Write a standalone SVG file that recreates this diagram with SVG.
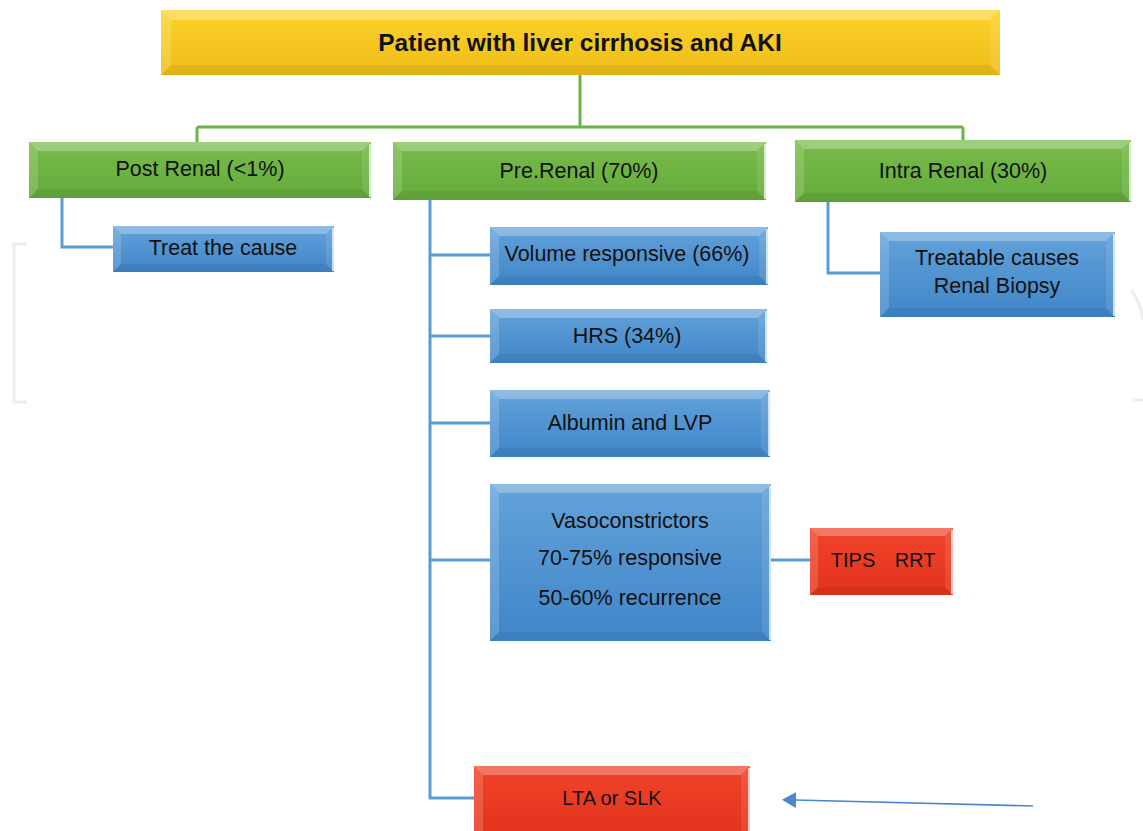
<svg xmlns="http://www.w3.org/2000/svg" width="1143" height="831" viewBox="0 0 1143 831">
<style>
text{font-family:"Liberation Sans",Arial,sans-serif;font-size:21.5px;fill:#111;text-anchor:middle;dominant-baseline:central}
.title{font-weight:bold;font-size:24.5px}
.sm{font-size:20px}
.bt{fill:#fff;fill-opacity:.28}
.bl{fill:#fff;fill-opacity:.16}
.br{fill:#fff;fill-opacity:.1}
.bb{fill:#000;fill-opacity:.06}
.edge{stroke:#fff;stroke-opacity:.7;stroke-width:2}
.g{stroke:#6ab44a;stroke-width:3;fill:none}
.b{stroke:#5b9bd5;stroke-width:3;fill:none}
.wm{stroke:#eceeee;stroke-width:3;fill:none}
</style>
<defs>
<linearGradient id="gy" x1="0" y1="0" x2="0" y2="1"><stop offset="0" stop-color="#fdd22a"/><stop offset="1" stop-color="#efbd18"/></linearGradient>
<linearGradient id="gg" x1="0" y1="0" x2="0" y2="1"><stop offset="0" stop-color="#78bc4a"/><stop offset="1" stop-color="#64ab3c"/></linearGradient>
<linearGradient id="gb" x1="0" y1="0" x2="0" y2="1"><stop offset="0" stop-color="#64a2da"/><stop offset="1" stop-color="#3f86c8"/></linearGradient>
<linearGradient id="gr" x1="0" y1="0" x2="0" y2="1"><stop offset="0" stop-color="#f0442a"/><stop offset="1" stop-color="#e2331c"/></linearGradient>
<marker id="ah" viewBox="0 0 14 16" refX="1" refY="8" markerWidth="14" markerHeight="16" markerUnits="userSpaceOnUse" orient="auto-start-reverse"><path d="M0,0 L14,8 L0,16 z" fill="#4a88cc"/></marker>
</defs>

<g id="watermark">
<path class="wm" d="M27,244 H14 V402 H27"/>
<path class="wm" d="M1131,290 A60,60 0 0 1 1143,320"/>
<path class="wm" d="M1133,400 H1143"/>
</g>

<g id="connectors">
<path class="g" d="M580,75 V127 M197,127 H963 M197,127 V142 M963,127 V140"/>
<path class="b" d="M62,198 V247 H113"/>
<path class="b" d="M430,200 V798 H474 M430,255 H490 M430,336 H490 M430,423 H490 M430,560 H490"/>
<path class="b" d="M771,560 H810"/>
<path class="b" d="M828,202 V273 H880"/>
<line x1="1033" y1="806" x2="795" y2="800" stroke="#4a88cc" stroke-width="1.6" marker-end="url(#ah)"/>
</g>

<g id="n-top">
<rect x="161" y="10" width="839" height="65" fill="url(#gy)"/>
<polygon class="bt" points="161,10 1000,10 990,20 171,20"/>
<polygon class="bl" points="161,10 171,20 171,65 161,75"/>
<polygon class="br" points="1000,10 990,20 990,65 1000,75"/>
<polygon class="bb" points="161,75 171,65 990,65 1000,75"/>
<text class="title" x="580" y="42">Patient with liver cirrhosis and AKI</text>
</g>

<g id="n-post">
<rect x="29" y="142" width="342" height="56" fill="url(#gg)"/>
<polygon class="bt" points="29,142 371,142 362,151 38,151"/>
<polygon class="bl" points="29,142 38,151 38,189 29,198"/>
<polygon class="br" points="371,142 362,151 362,189 371,198"/>
<polygon class="bb" points="29,198 38,189 362,189 371,198"/>
<line class="edge" x1="370" y1="144" x2="370" y2="197"/>
<text x="200" y="169">Post Renal (&lt;1%)</text>
</g>

<g id="n-pre">
<rect x="393" y="142" width="373" height="58" fill="url(#gg)"/>
<polygon class="bt" points="393,142 766,142 757,151 402,151"/>
<polygon class="bl" points="393,142 402,151 402,191 393,200"/>
<polygon class="br" points="766,142 757,151 757,191 766,200"/>
<polygon class="bb" points="393,200 402,191 757,191 766,200"/>
<line class="edge" x1="765" y1="144" x2="765" y2="199"/>
<text x="579" y="171">Pre.Renal  (70%)</text>
</g>

<g id="n-intra">
<rect x="795" y="140" width="336" height="62" fill="url(#gg)"/>
<polygon class="bt" points="795,140 1131,140 1122,149 804,149"/>
<polygon class="bl" points="795,140 804,149 804,193 795,202"/>
<polygon class="br" points="1131,140 1122,149 1122,193 1131,202"/>
<polygon class="bb" points="795,202 804,193 1122,193 1131,202"/>
<line class="edge" x1="1130" y1="142" x2="1130" y2="201"/>
<text x="963" y="171">Intra Renal (30%)</text>
</g>

<g id="n-treat">
<rect x="113" y="226" width="221" height="46" fill="url(#gb)"/>
<polygon class="bt" points="113,226 334,226 326,234 121,234"/>
<polygon class="bl" points="113,226 121,234 121,264 113,272"/>
<polygon class="br" points="334,226 326,234 326,264 334,272"/>
<polygon class="bb" points="113,272 121,264 326,264 334,272"/>
<line class="edge" x1="333" y1="228" x2="333" y2="271"/>
<text x="223" y="248">Treat the cause</text>
</g>

<g id="n-volume">
<rect x="490" y="227" width="278" height="58" fill="url(#gb)"/>
<polygon class="bt" points="490,227 768,227 759,236 499,236"/>
<polygon class="bl" points="490,227 499,236 499,276 490,285"/>
<polygon class="br" points="768,227 759,236 759,276 768,285"/>
<polygon class="bb" points="490,285 499,276 759,276 768,285"/>
<line class="edge" x1="767" y1="229" x2="767" y2="284"/>
<text x="627" y="254">Volume  responsive  (66%)</text>
</g>

<g id="n-hrs">
<rect x="490" y="309" width="277" height="54" fill="url(#gb)"/>
<polygon class="bt" points="490,309 767,309 758,318 499,318"/>
<polygon class="bl" points="490,309 499,318 499,354 490,363"/>
<polygon class="br" points="767,309 758,318 758,354 767,363"/>
<polygon class="bb" points="490,363 499,354 758,354 767,363"/>
<line class="edge" x1="766" y1="311" x2="766" y2="362"/>
<text x="627" y="336">HRS (34%)</text>
</g>

<g id="n-albumin">
<rect x="490" y="390" width="280" height="67" fill="url(#gb)"/>
<polygon class="bt" points="490,390 770,390 761,399 499,399"/>
<polygon class="bl" points="490,390 499,399 499,448 490,457"/>
<polygon class="br" points="770,390 761,399 761,448 770,457"/>
<polygon class="bb" points="490,457 499,448 761,448 770,457"/>
<line class="edge" x1="769" y1="392" x2="769" y2="456"/>
<text x="630" y="423">Albumin  and  LVP</text>
</g>

<g id="n-vaso">
<rect x="490" y="484" width="281" height="157" fill="url(#gb)"/>
<polygon class="bt" points="490,484 771,484 762,493 499,493"/>
<polygon class="bl" points="490,484 499,493 499,632 490,641"/>
<polygon class="br" points="771,484 762,493 762,632 771,641"/>
<polygon class="bb" points="490,641 499,632 762,632 771,641"/>
<line class="edge" x1="770" y1="486" x2="770" y2="640"/>
<text x="630" y="521">Vasoconstrictors</text>
<text x="630" y="558">70-75% responsive</text>
<text x="630" y="598">50-60% recurrence</text>
</g>

<g id="n-tips">
<rect x="810" y="528" width="143" height="67" fill="url(#gr)"/>
<polygon class="bt" points="810,528 953,528 945,536 818,536"/>
<polygon class="bl" points="810,528 818,536 818,587 810,595"/>
<polygon class="br" points="953,528 945,536 945,587 953,595"/>
<polygon class="bb" points="810,595 818,587 945,587 953,595"/>
<line class="edge" x1="952" y1="530" x2="952" y2="594"/>
<text class="sm" x="853" y="560">TIPS</text>
<text class="sm" x="915" y="560">RRT</text>
</g>

<g id="n-treatable">
<rect x="880" y="232" width="235" height="85" fill="url(#gb)"/>
<polygon class="bt" points="880,232 1115,232 1106,241 889,241"/>
<polygon class="bl" points="880,232 889,241 889,308 880,317"/>
<polygon class="br" points="1115,232 1106,241 1106,308 1115,317"/>
<polygon class="bb" points="880,317 889,308 1106,308 1115,317"/>
<line class="edge" x1="1114" y1="234" x2="1114" y2="316"/>
<text x="997" y="258">Treatable causes</text>
<text x="997" y="286">Renal Biopsy</text>
</g>

<g id="n-lta">
<rect x="474" y="766" width="276" height="70" fill="url(#gr)"/>
<polygon class="bt" points="474,766 750,766 741,775 483,775"/>
<polygon class="bl" points="474,766 483,775 483,836 474,836"/>
<polygon class="br" points="750,766 741,775 741,836 750,836"/>
<line class="edge" x1="749" y1="768" x2="749" y2="831"/>
<text class="sm" x="612" y="798">LTA or SLK</text>
</g>
</svg>
